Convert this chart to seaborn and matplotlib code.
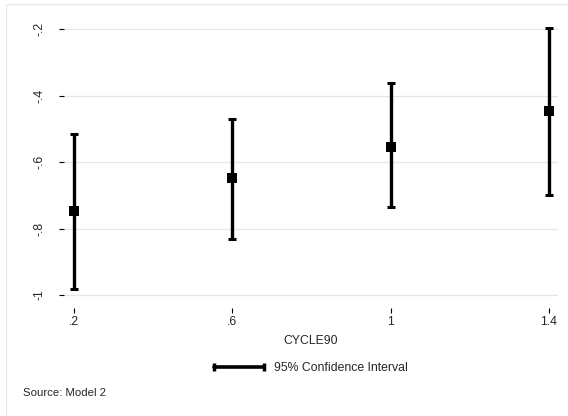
import numpy as np
import pandas as pd
import seaborn as sns
import matplotlib.pyplot as plt
from matplotlib.lines import Line2D
from matplotlib.patches import Rectangle

cycle90 = [0.2, 0.6, 1.0, 1.4]
estimate = [-0.748, -0.648, -0.554, -0.447]
ci_lower = [-0.983, -0.830, -0.736, -0.698]
ci_upper = [-0.516, -0.469, -0.362, -0.195]

xticks = [0.2, 0.6, 1.0, 1.4]
xtick_labels = [".2", ".6", "1", "1.4"]
yticks = [-1.0, -0.8, -0.6, -0.4, -0.2]
ytick_labels = ["-1", "-.8", "-.6", "-.4", "-.2"]

df = pd.DataFrame({"CYCLE90": cycle90, "est": estimate, "lo": ci_lower, "hi": ci_upper})

sns.set_style("white")
plt.rcParams["font.family"] = ["Liberation Sans", "DejaVu Sans"]

fig = plt.figure(figsize=(5.68, 4.16), dpi=100)
fig.patches.append(Rectangle((6 / 568, -0.05), 1.1, 1 - 4 / 416 + 0.05, transform=fig.transFigure,
                             fill=False, edgecolor="#e6e6e6", lw=0.8))
ax = fig.add_axes([64 / 568, 116 / 416, 494 / 568, 274 / 416])

# confidence intervals
ax.errorbar(df["CYCLE90"], df["est"],
            yerr=[df["est"] - df["lo"], df["hi"] - df["est"]],
            fmt="none", ecolor="black", elinewidth=2.4, capsize=2.6, capthick=2.2, zorder=3)
sns.scatterplot(data=df, x="CYCLE90", y="est", marker="s", s=42, color="black",
                edgecolor="black", linewidth=0, ax=ax, zorder=4)

ax.set_xlim(0.175, 1.423)
ax.set_ylim(-1.015, -0.19)
ax.set_yticks(yticks)
ax.set_yticklabels(ytick_labels, rotation=90, va="center")
ax.set_xticks(xticks)
ax.set_xticklabels(xtick_labels)
ax.grid(axis="y", color="#e6e6e6", lw=0.9)
ax.grid(axis="x", visible=False)
for s in ax.spines.values():
    s.set_visible(False)
ax.spines["bottom"].set_position(("outward", 6))
ax.tick_params(axis="both", direction="out", length=3.5, width=0.8, color="black", labelsize=8.8)
ax.tick_params(axis="x", bottom=True, pad=2)
ax.tick_params(axis="y", left=True, pad=10)
ax.set_xlabel("CYCLE90", fontsize=8.8, labelpad=5)
ax.set_ylabel("")

handle = Line2D([0], [0], color="black", lw=2.6, marker="|", markersize=6, markeredgewidth=2.5)
fig.legend([handle], ["95% Confidence Interval"], loc="center", bbox_to_anchor=(309 / 568, 1 - 368 / 416),
           frameon=False, fontsize=8.8, numpoints=2, handlelength=4.7, handletextpad=0.55)

fig.text(23 / 568, 1 - 393 / 416, "Source: Model 2", fontsize=8.2, va="center", ha="left")

fig.savefig("out.png", dpi=100)
